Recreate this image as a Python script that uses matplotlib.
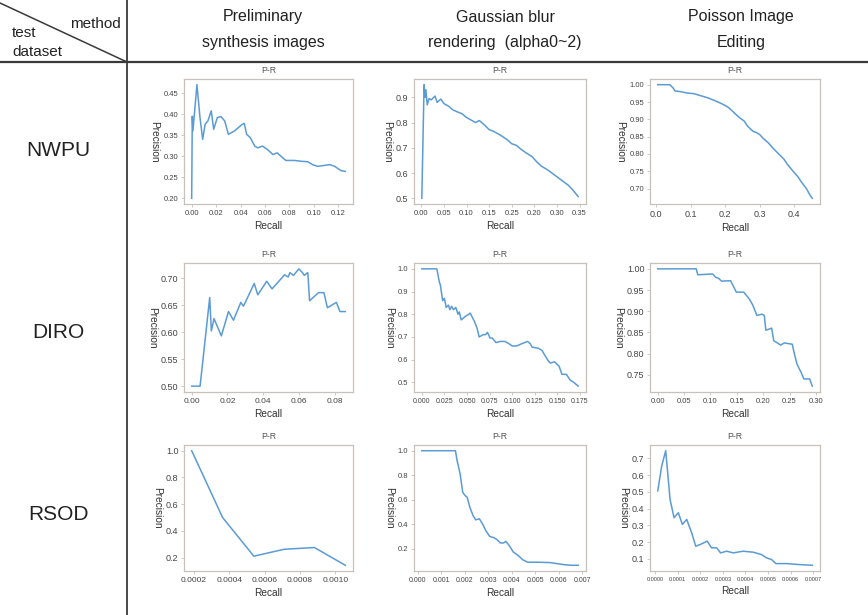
import numpy as np
import matplotlib
matplotlib.use("Agg")
import matplotlib.pyplot as plt
from matplotlib.ticker import MultipleLocator, FormatStrFormatter, FixedLocator, FixedFormatter

plt.rcParams['font.family'] = ['Liberation Sans', 'DejaVu Sans']

# table text
methods = ["Preliminary\nsynthesis images", "Gaussian blur\nrendering  (alpha0~2)", "Poisson Image\nEditing"]
datasets = ["NWPU", "DIRO", "RSOD"]

# NWPU
nwpu_pre_r = [0.0000, 0.0005, 0.0010, 0.0022, 0.0043, 0.0068, 0.0090, 0.0110, 0.0133, 0.0160, 0.0180,
              0.0210, 0.0240, 0.0270, 0.0300, 0.0350, 0.0410, 0.0430, 0.0450, 0.0480, 0.0516, 0.0540,
              0.0580, 0.0620, 0.0665, 0.0700, 0.0730, 0.0770, 0.0840, 0.0896, 0.0950, 0.0990, 0.1030,
              0.1080, 0.1130, 0.1170, 0.1190, 0.1220, 0.1257]
nwpu_pre_p = [0.200, 0.395, 0.360, 0.400, 0.470, 0.392, 0.340, 0.376, 0.384, 0.408, 0.364,
              0.392, 0.394, 0.384, 0.352, 0.360, 0.375, 0.378, 0.352, 0.344, 0.324, 0.320,
              0.324, 0.316, 0.304, 0.308, 0.300, 0.290, 0.290, 0.288, 0.287, 0.280, 0.276,
              0.278, 0.280, 0.276, 0.272, 0.266, 0.264]

nwpu_gau_r = [0.001, 0.006, 0.008, 0.010, 0.013, 0.017, 0.022, 0.030, 0.035, 0.043, 0.050, 0.060,
              0.070, 0.080, 0.090, 0.100, 0.110, 0.120, 0.128, 0.140, 0.150, 0.160, 0.175, 0.190,
              0.200, 0.210, 0.220, 0.230, 0.245, 0.255, 0.265, 0.280, 0.295, 0.310, 0.325, 0.335, 0.347]
nwpu_gau_p = [0.500, 0.950, 0.900, 0.930, 0.870, 0.895, 0.890, 0.905, 0.880, 0.893, 0.875, 0.865,
              0.850, 0.842, 0.835, 0.820, 0.810, 0.800, 0.808, 0.790, 0.772, 0.765, 0.750, 0.732,
              0.716, 0.710, 0.695, 0.682, 0.665, 0.645, 0.628, 0.612, 0.592, 0.572, 0.552, 0.533, 0.507]

nwpu_poi_r = [0.005, 0.040, 0.050, 0.055, 0.070, 0.090, 0.110, 0.130, 0.150, 0.170, 0.190, 0.200,
              0.210, 0.225, 0.240, 0.255, 0.265, 0.280, 0.290, 0.300, 0.310, 0.325, 0.340, 0.355,
              0.370, 0.380, 0.395, 0.410, 0.420, 0.435, 0.445, 0.452]
nwpu_poi_p = [1.000, 1.000, 0.990, 0.982, 0.980, 0.976, 0.974, 0.968, 0.962, 0.954, 0.945, 0.940,
              0.934, 0.920, 0.906, 0.895, 0.880, 0.866, 0.862, 0.856, 0.845, 0.832, 0.815, 0.800,
              0.785, 0.770, 0.752, 0.735, 0.720, 0.700, 0.682, 0.672]

# DIRO
diro_pre_r = [0.000, 0.0047, 0.0101, 0.0110, 0.0125, 0.0166, 0.0206, 0.0234, 0.0275, 0.0290, 0.0350,
              0.0370, 0.0420, 0.0450, 0.0520, 0.0540, 0.0550, 0.0570, 0.0600, 0.0620, 0.0630, 0.0650,
              0.0660, 0.0710, 0.0740, 0.0760, 0.0810, 0.0830, 0.0860]
diro_pre_p = [0.500, 0.500, 0.664, 0.602, 0.625, 0.593, 0.638, 0.622, 0.655, 0.648, 0.690,
              0.669, 0.694, 0.680, 0.706, 0.702, 0.710, 0.705, 0.717, 0.710, 0.705, 0.710,
              0.658, 0.673, 0.673, 0.645, 0.655, 0.638, 0.638]

diro_gau_r = [0.000, 0.0166, 0.0195, 0.0205, 0.0230, 0.0250, 0.0270, 0.0295, 0.0310, 0.0330, 0.0350,
              0.0376, 0.0400, 0.0415, 0.0435, 0.0480, 0.0520, 0.0535, 0.0580, 0.0610, 0.0634, 0.0680,
              0.0705, 0.0726, 0.0755, 0.0780, 0.0800, 0.0820, 0.0866, 0.0920, 0.0965, 0.1000, 0.1050,
              0.1105, 0.1170, 0.1200, 0.1220, 0.1290, 0.1330, 0.1360, 0.1390, 0.1420, 0.1470, 0.1520,
              0.1550, 0.1600, 0.1640, 0.1680, 0.1730]
diro_gau_p = [1.000, 1.000, 0.940, 0.930, 0.860, 0.870, 0.830, 0.840, 0.820, 0.835, 0.820,
              0.830, 0.800, 0.810, 0.775, 0.790, 0.800, 0.805, 0.770, 0.740, 0.700, 0.710,
              0.710, 0.720, 0.695, 0.695, 0.685, 0.675, 0.680, 0.680, 0.670, 0.660, 0.660,
              0.670, 0.680, 0.670, 0.655, 0.650, 0.640, 0.620, 0.600, 0.585, 0.590, 0.570,
              0.535, 0.535, 0.510, 0.500, 0.483]

diro_poi_r = [0.000, 0.073, 0.076, 0.104, 0.110, 0.115, 0.121, 0.138, 0.143, 0.149, 0.163, 0.173,
              0.180, 0.188, 0.198, 0.202, 0.205, 0.216, 0.220, 0.227, 0.233, 0.240, 0.255, 0.259,
              0.264, 0.272, 0.277, 0.288, 0.293]
diro_poi_p = [1.000, 1.000, 0.986, 0.988, 0.980, 0.978, 0.971, 0.972, 0.960, 0.945, 0.945, 0.930,
              0.915, 0.890, 0.893, 0.890, 0.855, 0.860, 0.830, 0.825, 0.820, 0.825, 0.822, 0.800,
              0.775, 0.755, 0.740, 0.740, 0.723]

# RSOD
rsod_pre_r = [0.000187, 0.000362, 0.000539, 0.000711, 0.000882, 0.001057]
rsod_pre_p = [1.000, 0.500, 0.210, 0.262, 0.275, 0.142]

rsod_gau_r = [0.00018, 0.00161, 0.00168, 0.00181, 0.00192, 0.00202, 0.00211, 0.00222, 0.00236, 0.00247,
              0.00263, 0.00277, 0.00291, 0.00307, 0.00325, 0.00338, 0.00352, 0.00366, 0.00375, 0.00389,
              0.00407, 0.00427, 0.00447, 0.00468, 0.00509, 0.00563, 0.00591, 0.00618, 0.00652, 0.00683]
rsod_gau_p = [1.000, 1.000, 0.920, 0.810, 0.660, 0.634, 0.620, 0.540, 0.470, 0.436,
              0.444, 0.400, 0.345, 0.300, 0.290, 0.274, 0.247, 0.247, 0.260, 0.228,
              0.173, 0.146, 0.110, 0.090, 0.090, 0.087, 0.079, 0.071, 0.065, 0.065]

rsod_poi_r = [0.0000118, 0.0000295, 0.0000472, 0.0000663, 0.0000840, 0.0001030, 0.0001210, 0.0001400,
              0.0001620, 0.0001800, 0.0002000, 0.0002310, 0.0002500, 0.0002730, 0.0002900, 0.0003170,
              0.0003460, 0.0003900, 0.0004350, 0.0004710, 0.0004940, 0.0005160, 0.0005350, 0.0005820,
              0.0006410, 0.0006960]
rsod_poi_p = [0.506, 0.656, 0.746, 0.456, 0.346, 0.376, 0.306, 0.336,
              0.256, 0.176, 0.186, 0.206, 0.166, 0.166, 0.136, 0.146,
              0.136, 0.146, 0.140, 0.126, 0.106, 0.096, 0.072, 0.072,
              0.066, 0.062]

curves = [
    [(nwpu_pre_r, nwpu_pre_p), (nwpu_gau_r, nwpu_gau_p), (nwpu_poi_r, nwpu_poi_p)],
    [(diro_pre_r, diro_pre_p), (diro_gau_r, diro_gau_p), (diro_poi_r, diro_poi_p)],
    [(rsod_pre_r, rsod_pre_p), (rsod_gau_r, rsod_gau_p), (rsod_poi_r, rsod_poi_p)],
]

# x tick settings per panel: (step, format, fontsize)
xtick_cfg = [
    [(0.02, '%.2f', 5.5), (0.05, '%.2f', 5.5), (0.1, '%.1f', 6.5)],
    [(0.02, '%.2f', 6.0), (0.025, '%.3f', 5.0), (0.05, '%.2f', 5.5)],
    [(0.0002, '%.4f', 6.0), (0.001, '%.3f', 5.0), (0.0001, '%.4f', 4.0)],
]
ytick_step = [[0.05, 0.1, 0.05], [0.05, 0.1, 0.05], [0.2, 0.2, 0.1]]
ytick_fmt = [['%.2f', '%.1f', '%.2f'], ['%.2f', '%.1f', '%.2f'], ['%.1f', '%.1f', '%.1f']]
ytick_fs = [[5.5, 6.5, 5.5], [6.5, 5.5, 6.5], [6.5, 5.5, 6.5]]
# the NWPU / Gaussian panel carries these labels in the original
nwpu_gau_xlabels = ["0.00", "0.05", "0.10", "0.15", "0.25", "0.20", "0.30", "0.35"]

W, H = 868, 615
fig = plt.figure(figsize=(W / 100, H / 100), dpi=100)

# table frame in pixel coords
bg = fig.add_axes([0, 0, 1, 1])
bg.set_xlim(0, W)
bg.set_ylim(H, 0)
bg.axis('off')
lc = '#3a3a3a'
bg.plot([0, W], [62, 62], color=lc, lw=1.6)
bg.plot([127, 127], [0, H], color=lc, lw=1.3)
bg.plot([0, 127], [3, 62], color=lc, lw=1.1)
bg.text(12, 33, "test", fontsize=11, color='#222', va='center', ha='left')
bg.text(121, 24, "method", fontsize=11, color='#222', va='center', ha='right')
bg.text(12, 52, "dataset", fontsize=11, color='#222', va='center', ha='left')

col_cx = [263, 505, 741]
for cx, m in zip(col_cx, methods):
    l1, l2 = m.split("\n")
    bg.text(cx, 17, l1, fontsize=11.5, color='#222', ha='center', va='center')
    bg.text(cx, 42, l2, fontsize=11.5, color='#222', ha='center', va='center')

row_cy = [150, 332, 514]
for cy, d in zip(row_cy, datasets):
    bg.text(58, cy, d, fontsize=15, color='#222', ha='center', va='center')

# axes boxes in pixels: left, right / top, bottom
col_x = [(184, 353), (414, 586), (650, 820)]
row_y = [(79, 204), (263, 392), (445, 571)]

frame_c = '#c8c0ba'
line_c = '#5b9bd5'
txt_c = '#333333'

for i in range(3):
    for j in range(3):
        x0, x1 = col_x[j]
        y0, y1 = row_y[i]
        ax = fig.add_axes([x0 / W, 1 - y1 / H, (x1 - x0) / W, (y1 - y0) / H])
        r, p = curves[i][j]
        ax.plot(r, p, color=line_c, lw=1.1)
        for s in ax.spines.values():
            s.set_color(frame_c)
            s.set_linewidth(0.9)
        step, fmt, fs = xtick_cfg[i][j]
        ax.xaxis.set_major_locator(MultipleLocator(step))
        ax.xaxis.set_major_formatter(FormatStrFormatter(fmt))
        ax.yaxis.set_major_locator(MultipleLocator(ytick_step[i][j]))
        ax.yaxis.set_major_formatter(FormatStrFormatter(ytick_fmt[i][j]))
        if i == 0 and j == 1:
            ticks = [k * 0.05 for k in range(len(nwpu_gau_xlabels))]
            ax.xaxis.set_major_locator(FixedLocator(ticks))
            ax.xaxis.set_major_formatter(FixedFormatter(nwpu_gau_xlabels))
        ax.tick_params(axis='x', labelsize=fs, colors=frame_c, labelcolor='#444', length=2, width=0.6, pad=2)
        ax.tick_params(axis='y', labelsize=ytick_fs[i][j], colors=frame_c, labelcolor='#444', length=2, width=0.6, pad=2)
        ax.set_title("P-R", fontsize=6.3, color='#555', pad=4)
        ax.set_xlabel("Recall", fontsize=7.3, color=txt_c, labelpad=3)
        ax.set_ylabel("Precision", fontsize=7.3, color=txt_c, rotation=-90, va='top', labelpad=3)

fig.savefig("out.png", dpi=100, facecolor='white')
